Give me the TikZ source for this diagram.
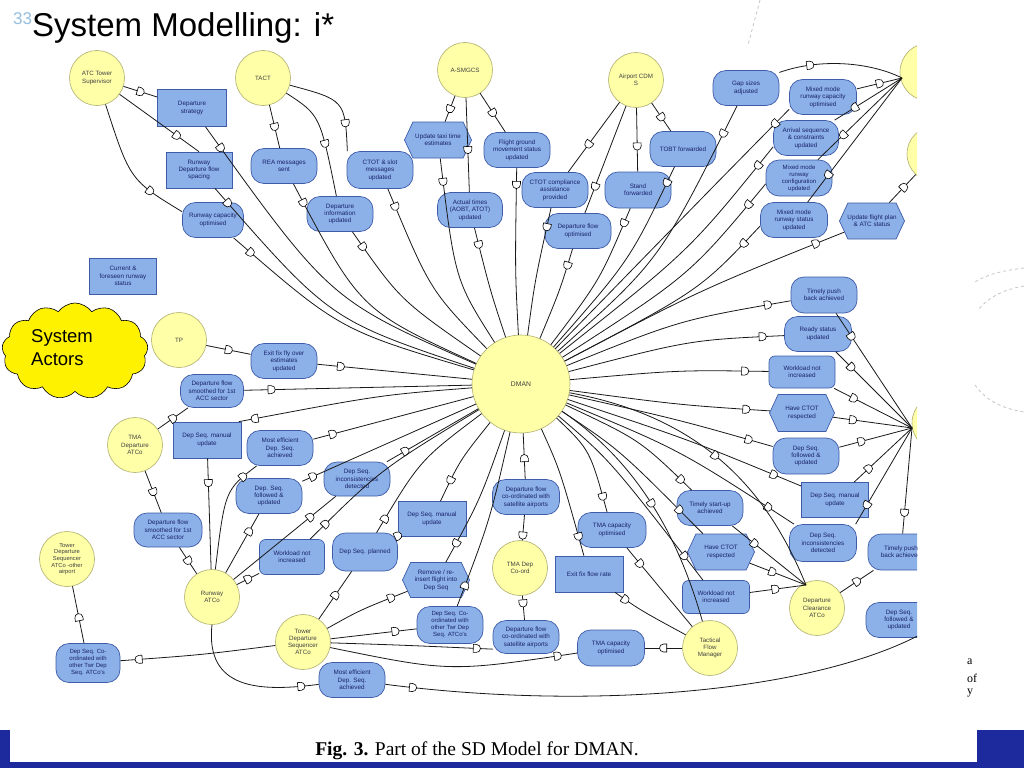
\documentclass[tikz,border=0pt]{standalone}
\usepackage{fontspec}
\setmainfont{Liberation Serif}
\newfontfamily\arialf{Liberation Sans}
\usetikzlibrary{shapes.symbols,shapes.geometric,decorations.markings}
\definecolor{gfill}{RGB}{140,176,232}
\definecolor{gdraw}{RGB}{62,92,168}
\definecolor{gtext}{RGB}{25,35,105}
\definecolor{afill}{RGB}{255,255,168}
\definecolor{adraw}{RGB}{175,175,112}
\definecolor{barblue}{RGB}{28,42,158}
\definecolor{numblue}{RGB}{150,190,222}
\tikzset{
 base/.style={font=\arialf\fontsize{6.3}{7.4}\selectfont, text=gtext, align=center, inner sep=1pt, line width=0.7pt},
 goal/.style={base, draw=gdraw, fill=gfill, rounded corners=13pt, minimum width=66pt, minimum height=35pt},
 res/.style={base, draw=gdraw, fill=gfill, rectangle, minimum width=67pt, minimum height=36pt},
 task/.style={base, draw=gdraw, fill=gfill, shape=signal, signal to=east and west, signal pointer angle=130, minimum width=66pt, minimum height=36pt, inner xsep=-6pt},
 soft/.style={base, draw=gdraw, fill=gfill, rounded corners=6pt, minimum width=66pt, minimum height=34pt},
 actor/.style={font=\arialf\fontsize{6.2}{7.2}\selectfont, text=black!75, align=center, circle, draw=adraw, fill=afill, line width=0.6pt, minimum size=55pt, inner sep=0pt},
 dep/.style={draw=black!90, line width=0.8pt, postaction={decorate}, decoration={markings, mark=at position #1 with {\draw[fill=white, line width=0.6pt, draw=black] (-3.2pt,-4pt) -- (0pt,-4pt) arc[start angle=-90, end angle=90, radius=4pt] -- (-3.2pt,4pt) -- cycle;}}},
 dep/.default=0.5,
}
\begin{document}
\begin{tikzpicture}[x=1pt,y=-1pt]
\useasboundingbox (0,0) rectangle (1024,768);
\fill[white] (0,0) rectangle (1024,768);
% slide decorations
\draw[gray!45, dashed, line width=0.8pt] (760,0) -- (748,45);
\draw[gray!45, dashed, line width=0.8pt] (1024,268) .. controls (1000,271) and (986,275) .. (975,282);
\draw[gray!45, dashed, line width=0.8pt] (1024,286) .. controls (1000,290) and (986,300) .. (978,310);
\draw[gray!45, dashed, line width=0.8pt] (975,385) .. controls (986,400) and (1000,408) .. (1024,412);
% bottom bar
\fill[barblue] (0,730) rectangle (1024,768);
\fill[white] (10,729) rectangle (977,762);
\node[anchor=base, font=\fontsize{19.5}{20}\selectfont] (caption) at (477,755) {\textbf{Fig. 3.} Part of the SD Model for DMAN.};
% title
\node[anchor=base west, font=\arialf\fontsize{17}{17}\selectfont, text=numblue, inner sep=0pt] (num) at (13,25) {33};
\node[anchor=base west, font=\arialf\fontsize{33}{33}\selectfont, inner sep=0pt] (title) at (32,37) {System Modelling: i*};
% side text fragments
\node[anchor=west, font=\fontsize{12}{12}\selectfont, inner sep=0pt] (fa) at (967,662) {a};
\node[anchor=west, font=\fontsize{12}{12}\selectfont, inner sep=0pt] (fb) at (967,678) {of};
\node[anchor=west, font=\fontsize{12}{12}\selectfont, inner sep=0pt] (fc) at (967,693) {y};

\begin{scope}
\clip (0,42) rectangle (917,712);
% actors
\node[actor] (ats) at (97,78) {ATC Tower\\Supervisor};
\node[actor] (tact) at (263,78) {TACT};
\node[actor] (asmgcs) at (465,70) {A-SMGCS};
\node[actor] (acdm) at (636,80) {Airport CDM\\S};
\node[actor, minimum size=58pt] (ra) at (929,72) {};
\node[actor, minimum size=56pt] (rb) at (935,154) {};
\node[actor, minimum size=56pt] (rc) at (940,423) {};
\node[actor] (tp) at (179,340) {TP};
\node[actor, minimum size=98pt, font=\arialf\fontsize{6.8}{8}\selectfont] (dman) at (521,384) {DMAN};
\node[actor] (tmaatco) at (135,445) {TMA\\Departure\\ATCo};
\node[actor, font=\arialf\fontsize{5.8}{6.6}\selectfont] (tdso) at (67,559) {Tower\\Departure\\Sequencer\\ATCo -other\\airport};
\node[actor] (rwy) at (212,597) {Runway\\ATCo};
\node[actor] (tds) at (303,642) {Tower\\Departure\\Sequencer\\ATCo};
\node[actor] (tdc) at (520,568) {TMA Dep\\Co-ord};
\node[actor] (tfm) at (710,648) {Tactical\\Flow\\Manager};
\node[actor] (dca) at (817,608) {Departure\\Clearance\\ATCo};
% cloud
\node[cloud, cloud puffs=13, cloud puff arc=110, aspect=1.55, draw=black, fill=yellow, minimum width=146pt, minimum height=96pt, line width=0.6pt, inner sep=0pt] (sysact) at (75,351) {};
\node[anchor=west, align=left, font=\arialf\fontsize{18.5}{23}\selectfont, inner sep=0pt] (sysactlbl) at (31,348) {System\\Actors};
% top-left
\node[res, minimum width=69pt, minimum height=37pt] (depstrat) at (192,108) {Departure\\strategy};
\node[res, minimum width=66pt] (rdfs) at (199,170) {Runway\\Departure flow\\spacing};
\node[goal, minimum width=61pt] (rco) at (213,220) {Runway capacity\\optimised};
\node[goal] (rea) at (284,166) {REA messages\\sent};
\node[goal] (diu) at (340,214) {Departure\\information\\updated};
\node[goal, minimum height=37pt] (ctot) at (380,170) {CTOT \& slot\\messages\\updated};
\node[task, minimum width=67pt] (utte) at (438,140) {Update taxi time\\estimates};
\node[goal] (fgm) at (517,150) {Flight ground\\movement status\\updated};
\node[goal, minimum width=65pt] (atu) at (470,210) {Actual times\\(AOBT, ATOT)\\updated};
\node[goal] (ccap) at (555,190) {CTOT compliance\\assistance\\provided};
\node[goal] (dfo) at (578,231) {Departure flow\\optimised};
\node[goal, minimum height=36pt] (sf) at (638,190) {Stand\\forwarded};
\node[goal] (tobt) at (683,149) {TOBT forwarded};
% top-right
\node[goal] (gsa) at (746,88) {Gap sizes\\adjusted};
\node[goal, minimum width=67pt] (mmrco) at (823,97) {Mixed mode\\runway capacity\\optimised};
\node[goal, minimum width=65pt] (ascu) at (806,138) {Arrival sequence\\\& constraints\\updated};
\node[goal, minimum height=36pt, font=\arialf\fontsize{6}{7}\selectfont] (mmrcfg) at (799,178) {Mixed mode\\runway\\configuration\\updated};
\node[goal, minimum width=67pt] (mmrs) at (794,220) {Mixed mode\\runway status\\updated};
\node[task, minimum width=65pt] (ufp) at (872,221) {Update flight plan\\\& ATC status};
% left middle
\node[res] (cfrs) at (123,276) {Current \&\\foreseen runway\\status};
\node[goal] (effo) at (284,361) {Exit fix fly over\\estimates\\updated};
\node[goal, minimum width=63pt, minimum height=33pt] (dfsa) at (212,391) {Departure flow\\smoothed for 1st\\ACC sector};
\node[res, minimum width=68pt] (dsmul) at (207,440) {Dep Seq. manual\\update};
\node[goal] (medsu) at (280,448) {Most efficient\\Dep. Seq.\\achieved};
\node[goal] (dsful) at (269,496) {Dep. Seq.\\followed \&\\updated};
\node[goal, minimum height=34pt] (dsidl) at (357,479) {Dep Seq.\\inconsistencies\\detected};
\node[goal, minimum width=68pt, minimum height=34pt] (dfsb) at (168,530) {Departure flow\\smoothed for 1st\\ACC sector};
\node[soft, minimum width=65pt, minimum height=35pt] (wnil) at (292,557) {Workload not\\increased};
\node[goal, minimum width=65pt, minimum height=38pt] (dsp) at (365,552) {Dep Seq. planned};
\node[res, minimum width=68pt, minimum height=35pt] (dsmuc) at (432,519) {Dep Seq. manual\\update};
\node[task, minimum width=67pt, minimum height=35pt] (rr) at (436,580) {Remove / re-\\insert flight into\\Dep Seq};
\node[goal, minimum width=67pt] (dfcsu) at (526,497) {Departure flow\\co-ordinated with\\satellite airports};
\node[goal, minimum width=68pt] (tcou) at (612,530) {TMA capacity\\optimised};
\node[res, minimum width=68pt] (effr) at (589,574) {Exit fix flow rate};
\node[goal, minimum height=37pt, font=\arialf\fontsize{6}{7}\selectfont] (dscoc) at (450,625) {Dep Seq. Co-\\ordinated with\\other Twr Dep\\Seq. ATCo's};
\node[goal, minimum height=33pt] (dfcsl) at (526,637) {Departure flow\\co-ordinated with\\satellite airports};
\node[goal, minimum width=67pt, minimum height=36pt] (tcol) at (611,648) {TMA capacity\\optimised};
\node[goal] (medsl) at (352,680) {Most efficient\\Dep. Seq.\\achieved};
\node[goal, minimum width=64pt, minimum height=39pt, font=\arialf\fontsize{6}{7}\selectfont] (dscol) at (88,663) {Dep Seq. Co-\\ordinated with\\other Twr Dep\\Seq. ATCo's};
% right middle
\node[goal, minimum height=36pt] (tpb) at (824,295) {Timely push\\back achieved};
\node[goal, minimum width=67pt] (rsu) at (818,334) {Ready status\\updated};
\node[soft, minimum height=32pt] (wnir) at (802,372) {Workload not\\increased};
\node[task, minimum width=65pt, minimum height=37pt] (hcr) at (802,413) {Have CTOT\\respected};
\node[goal, minimum height=36pt] (dsfur) at (806,456) {Dep Seq.\\followed \&\\updated};
\node[res, minimum height=35pt] (dsmur) at (835,500) {Dep Seq. manual\\update};
\node[goal] (tsa) at (710,508) {Timely start-up\\achieved};
\node[goal, minimum width=67pt, minimum height=37pt] (dsidr) at (823,543) {Dep Seq.\\inconsistencies\\detected};
\node[task, minimum width=67pt] (hcrl) at (721,552) {Have CTOT\\respected};
\node[soft, minimum width=67pt, minimum height=33pt] (wnill) at (716,597) {Workload not\\increased};
\node[goal, minimum height=36pt] (tpbl) at (901,552) {Timely push\\back achieved};
\node[goal] (dsfull) at (899,620) {Dep Seq.\\followed \&\\updated};

\coordinate (raP) at (902,78);
\coordinate (rcP) at (912,428);
\coordinate (dcaP) at (806,585);
\coordinate (bigend) at (925,632);

% ---- top-left connectors
\draw[dep=0.5] (ats) -- (depstrat);
\draw[dep=0.72] (ats) -- (rdfs.north);
\draw[dep=0.72] (ats) .. controls (130,180) .. (rco.165);
\draw[dep=0.5] (tact) -- (rea);
\draw[dep=0.55] (tact) .. controls (320,115) .. (diu);
\draw[dep=0.72] (tact) .. controls (345,100) .. (ctot.150);
\draw[dep=0.5] (asmgcs) -- (utte);
\draw[dep=0.55] (asmgcs) -- (atu);
\draw[dep=0.5] (asmgcs) -- (fgm);
\draw[dep=0.6] (acdm) -- (ccap);
\draw[dep=0.75] (acdm) -- (dfo);
\draw[dep=0.6] (acdm) -- (sf);
\draw[dep=0.5] (acdm) -- (tobt);
% goals into DMAN (marker near goal)
\foreach \g/\p/\c in {depstrat/0.07/{330,300}, rdfs/0.06/{330,320}, rco/0.08/{340,330}, rea/0.08/{360,310}, diu/0.1/{400,300}, ctot/0.1/{430,290}, utte/0.12/{455,280}, atu/0.15/{490,290}, fgm/0.1/{515,270}, ccap/0.15/{535,280}, dfo/0.18/{560,290}, sf/0.1/{600,280}, tobt/0.08/{630,260}, gsa/0.1/{660,260}}
 {\draw[dep=\p] (\g) .. controls (\c) .. (dman);}
\draw[dep=0.06] (mmrco.200) .. controls (700,200) .. (dman);
\draw[dep=0.08] (ascu.195) .. controls (690,250) .. (dman);
\draw[dep=0.1] (mmrcfg.190) .. controls (690,275) .. (dman);
\draw[dep=0.1] (mmrs.190) .. controls (700,290) .. (dman);
% top-right
\draw[dep=0.25] (gsa.25) .. controls (820,58) and (870,62) .. (raP);
\draw[dep=0.5] (mmrco) -- (raP);
\draw[dep=0.7] (raP) -- (ascu);
\draw[dep=0.7] (raP) -- (mmrcfg);
\draw[dep=0.78] (raP) -- (mmrs);
\draw[dep=0.55] (ufp) -- (rb);
\draw[dep=0.9] (dman) .. controls (700,290) .. (ufp);
% right middle
\foreach \g/\p/\c in {tpb/0.9/{680,320}, rsu/0.9/{690,340}, wnir/0.88/{680,370}, hcr/0.88/{680,405}, dsfur/0.88/{680,420}, dsmur/0.88/{690,440}, dsidr/0.88/{680,450}, tsa/0.9/{640,440}, hcrl/0.82/{620,450}, wnill/0.86/{610,460}}
 {\draw[dep=\p] (dman) .. controls (\c) .. (\g);}
\draw[dep=0.2] (tpb) -- (rcP);
\draw[dep=0.2] (rsu) -- (rcP);
\draw[dep=0.25] (wnir) -- (rcP);
\draw[dep=0.25] (hcr) -- (rcP);
\draw[dep=0.3] (dsfur) -- (rcP);
\draw[dep=0.25] (dsmur) -- (rcP);
\draw[dep=0.8] (rcP) -- (dsidr.30);
\draw[dep=0.8] (rcP) -- (tpbl);
\draw[dep=0.3] (tsa) -- (dcaP);
\draw[dep=0.4] (hcrl) -- (dcaP);
\draw[dep=0.45] (wnill) -- (dcaP);
\draw[dep=0.5] (dca) -- (tpbl);
\draw[dep=0.5] (dman) .. controls (720,420) and (775,510) .. (dcaP);
\draw[dep=0.5] (dman) .. controls (650,470) and (685,560) .. (tfm);
% TFM
\draw[dep=0.2] (tcou) -- (tfm);
\draw[dep=0.5] (tfm) -- (tcol);
\draw[dep=0.15] (effr) .. controls (640,610) .. (tfm);
\draw[dep=0.85] (dman) .. controls (560,470) .. (effr);
\draw[dep=0.85] (dman) .. controls (590,450) .. (tcou);
% lower centre
\draw[dep=0.45] (dfcsu) -- (dman);
\draw[dep=0.8] (dfcsu) -- (tdc);
\draw[dep=0.3] (tdc) -- (dfcsl);
\draw[dep=0.9] (tds) .. controls (400,645) .. (dfcsl.200);
\draw[dep=0.92] (tds) .. controls (450,672) .. (tcol);
\draw[dep=0.75] (tds) -- (dscoc);
\draw[dep=0.8] (tds) .. controls (360,610) .. (rr);
\draw[dep=0.12] (dscoc) .. controls (490,520) .. (dman);
\draw[dep=0.85] (dman) .. controls (480,500) .. (rr);
\draw[dep=0.75] (dman) .. controls (460,460) .. (dsmuc);
\draw[dep=0.5] (dsmuc) -- (dsp);
\draw[dep=0.5] (tds) -- (dsp);
\draw[dep=0.1] (dsp) .. controls (420,460) .. (dman);
% left middle
\draw[dep=0.5] (tp) -- (effo);
\draw[dep=0.15] (effo) -- (dman);
\draw[dep=0.5] (tmaatco) -- (dfsa);
\draw[dep=0.12] (dfsa) -- (dman);
\draw[dep=0.93] (dman) .. controls (380,395) .. (dsmul.30);
\draw[dep=0.22] (dsmul) -- (rwy);
\draw[dep=0.12] (medsu) -- (dman);
\draw[dep=0.85] (rwy) .. controls (225,490) .. (medsu);
\draw[dep=0.06] (dsful) -- (dman);
\draw[dep=0.7] (rwy) -- (dsful);
\draw[dep=0.2] (dsidl) -- (dman);
\draw[dep=0.75] (rwy) -- (dsidl);
\draw[dep=0.5] (rwy) -- (wnil);
\draw[dep=0.1] (wnil) .. controls (380,470) .. (dman);
\draw[dep=0.5] (tmaatco) -- (dfsb);
\draw[dep=0.5] (dfsb) -- (rwy);
\draw[dep=0.88] (tds) .. controls (200,655) .. (dscol);
\draw[dep=0.45] (dscol) -- (tdso);
\draw[dep=0.88] (rwy.south) .. controls (205,690) and (260,692) .. (medsl);
\draw[dep=0.05] (medsl) .. controls (600,712) and (820,690) .. (bigend);
\end{scope}
\end{tikzpicture}
\end{document}
